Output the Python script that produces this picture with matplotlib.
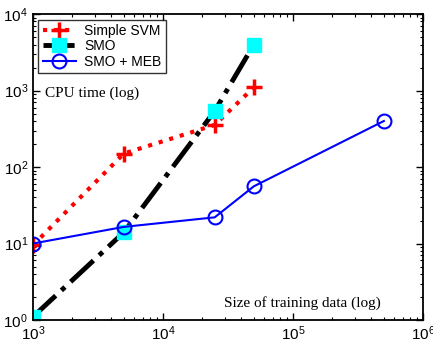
import matplotlib
matplotlib.use('Agg')
import matplotlib.pyplot as plt

# data
sizes = [1e3, 5e3, 2.5e4, 5e4]
sizes_meb = [1e3, 5e3, 2.5e4, 5e4, 5e5]
simple_svm = [9.5, 150, 355, 1100]
smo = [1.1, 14, 540, 4000]
smo_meb = [10, 16.5, 22, 56, 400]

plt.rcParams['font.family'] = 'Liberation Sans'
plt.rcParams['mathtext.fontset'] = 'custom'
plt.rcParams['mathtext.rm'] = 'Liberation Sans'
plt.rcParams['mathtext.it'] = 'Liberation Sans:italic'
plt.rcParams['mathtext.bf'] = 'Liberation Sans:bold'

fig = plt.figure(figsize=(4.33, 3.43), dpi=100)
ax = fig.add_axes([0.076, 0.067, 0.901, 0.892])

ax.plot(sizes, simple_svm, color='red', linestyle=':', linewidth=3,
        marker='+', markersize=11, markeredgewidth=2.5, label='Simple SVM')
ax.plot(sizes, smo, color='black', linestyle='-.', linewidth=3.5,
        marker='s', markersize=10, markerfacecolor='cyan', markeredgecolor='cyan',
        label='SMO')
ax.plot(sizes_meb, smo_meb, color='blue', linestyle='-', linewidth=1.5,
        marker='o', markersize=10, markerfacecolor='none', markeredgewidth=1.5,
        label='SMO + MEB')

ax.set_xscale('log')
ax.set_yscale('log')
ax.set_xlim(1e3, 1e6)
ax.set_ylim(1, 1e4)

ax.tick_params(which='both', direction='in', top=True, right=True, labelsize=11)
ax.tick_params(which='major', length=5, width=1)
ax.tick_params(which='minor', length=2.5, width=0.8)
for s in ax.spines.values():
    s.set_linewidth(1.3)

leg = ax.legend(loc='upper left', fontsize=10, frameon=True, fancybox=False,
                edgecolor='black', borderpad=0.3, labelspacing=0.1,
                handlelength=2.4, handletextpad=0.6, borderaxespad=0.4)
leg.get_frame().set_linewidth(1.0)

ax.text(0.03, 0.74, 'CPU time (log)', transform=ax.transAxes,
        family='Liberation Serif', fontsize=11, va='center')
ax.text(0.49, 0.055, 'Size of training data (log)', transform=ax.transAxes,
        family='Liberation Serif', fontsize=11, va='center')

plt.savefig('out.png', dpi=100)
